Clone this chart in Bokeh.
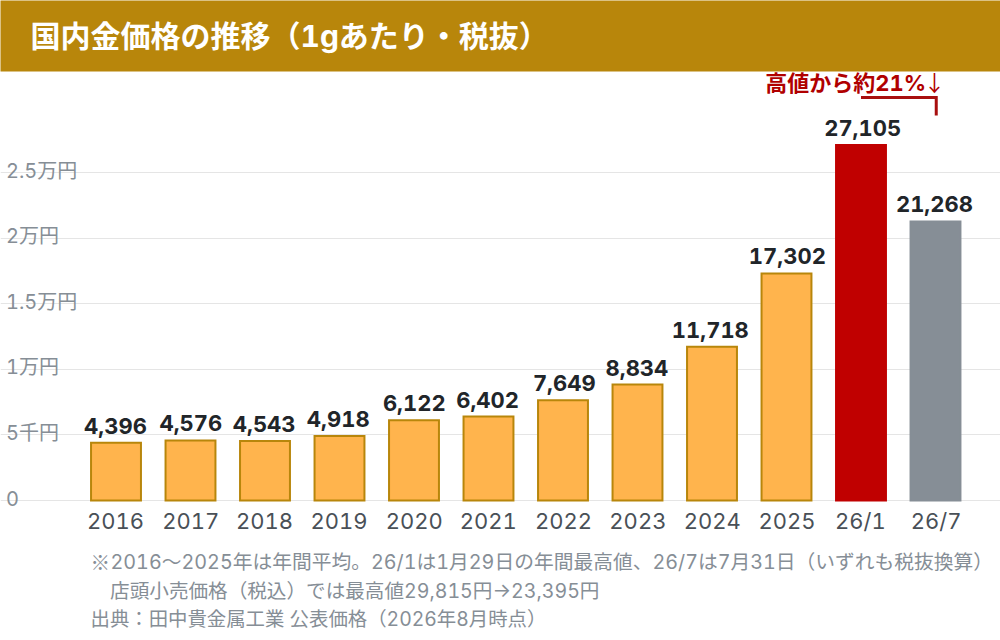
from bokeh.embed import file_html
from bokeh.resources import INLINE
from bokeh.plotting import figure
from bokeh.core.properties import value
from bokeh.models import Range1d, FixedTicker, Label, BoxAnnotation, ColumnDataSource, InlineStyleSheet

categories = ["2016", "2017", "2018", "2019", "2020", "2021", "2022", "2023", "2024", "2025", "26/1", "26/7"]
values = [4396, 4576, 4543, 4918, 6122, 6402, 7649, 8834, 11718, 17302, 27105, 21268]
fills = ["#FFB44D"] * 10 + ["#C00000", "#868E96"]
borders = ["#B8860B"] * 10 + ["#C00000", "#868E96"]
y_ticks = [0, 5000, 10000, 15000, 20000, 25000]
y_tick_labels = ["0", "5千円", "1万円", "1.5万円", "2万円", "2.5万円"]
title_text = "国内金価格の推移（1gあたり・税抜）"
callout_text = "高値から約21%"
callout_arrow = "↓"
bracket_y = [30716, 30716, 29345]
note_mark = "※"
notes = [
    "2016～2025年は年間平均。26/1は1月29日の年間最高値、26/7は7月31日（いずれも税抜換算）",
    "　店頭小売価格（税込）では最高値29,815円→23,395円",
    "出典：田中貴金属工業 公表価格（2026年8月時点）",
]

FONT = "Inter, 'Noto Sans CJK JP', sans-serif"
CJK = "'Noto Sans CJK JP', sans-serif"
x_idx = list(range(len(categories)))
txt = [f"{v:,}" for v in values]
# Text anchors are measured before tabular figures widen each "1": compensate per label.
src = ColumnDataSource(dict(x=x_idx, v=values, fill=fills, line=borders, txt=txt,
                            dx=[-3 * t.count("1") for t in txt]))
cat_src = ColumnDataSource(dict(x=x_idx, y=[0] * len(x_idx), txt=categories,
                                dx=[-3 * t.count("1") - 1 for t in categories]))

p = figure(width=1000, height=640, output_backend="svg", toolbar_location=None,
           x_range=Range1d(-1.5503, 11.8725), y_range=Range1d(-10671, 38110),
           min_border_left=0, min_border_right=0, min_border_top=0, min_border_bottom=0,
           outline_line_color=None, background_fill_color="white", border_fill_color="white",
           stylesheets=[InlineStyleSheet(css=":host{font-variant-numeric:tabular-nums;font-feature-settings:'tnum' 1;}")])

p.vbar(x="x", top="v", bottom=0, width=0.67, source=src, fill_color="fill", line_color="line",
       line_width=2, line_join="miter")
p.text(x="x", y="v", text="txt", source=src, text_font=value(FONT), text_font_style="bold",
       text_font_size="22px", text_color="#212529", text_align="center",
       text_baseline="bottom", x_offset="dx", y_offset=-9)
p.text(x="x", y="y", text="txt", source=cat_src, text_font=value(FONT),
       text_font_size="22px", text_color="#495057", text_align="center",
       text_baseline="middle", x_offset="dx", y_offset=21)
p.line(x=[x_idx[-2], x_idx[-1] + 0.01, x_idx[-1] + 0.01], y=bracket_y, line_color="#A80F0F", line_width=3,
       line_join="miter")

p.xaxis.visible = False
p.yaxis.visible = False
p.xgrid.visible = False
p.ygrid.ticker = FixedTicker(ticks=y_ticks)
p.ygrid.bounds = (-0.342, 11.349)
p.ygrid.grid_line_color = "#E5E5E5"
p.ygrid.grid_line_width = 1

for t, s in zip(y_ticks, y_tick_labels):
    p.add_layout(Label(x=5.5, y=t, x_units="canvas", y_units="data", y_offset=2, text=s, text_font=FONT,
                       text_font_size="20px", text_color="#868E96", text_baseline="middle"))

p.add_layout(Label(x=920.5, y=82, x_units="canvas", y_units="canvas", text=callout_text, text_font=FONT,
                   text_font_style="bold", text_font_size="22px", text_color="#B00000",
                   text_align="right", text_baseline="middle"))
p.add_layout(Label(x=923, y=80, x_units="canvas", y_units="canvas", text=callout_arrow, text_font=CJK,
                   text_font_size="22px", text_color="#B00000", text_baseline="middle"))
p.add_layout(BoxAnnotation(left=-3, right=1003, top=-3, bottom=71, left_units="canvas", right_units="canvas",
                           top_units="canvas", bottom_units="canvas", fill_color="#B8860B", fill_alpha=1,
                           line_color=None, level="overlay"))
p.add_layout(Label(x=30, y=35, x_units="canvas", y_units="canvas", text=title_text, text_font=FONT,
                   text_font_style="bold", text_font_size="30px", text_color="white", text_baseline="middle",
                   level="overlay"))
p.add_layout(Label(x=90, y=561, x_units="canvas", y_units="canvas", text=note_mark, text_font=CJK,
                   text_font_size="19.5px", text_color="#868E96", text_baseline="middle"))
for x, y, s, fs in zip([110, 90, 90], [561, 590, 618], notes, ["19.75px", "19.6px", "19.4px"]):
    p.add_layout(Label(x=x, y=y, x_units="canvas", y_units="canvas", text=s, text_font=FONT,
                       text_font_size=fs, text_color="#868E96", text_baseline="middle"))

open("out.html", "w").write(file_html(p, INLINE))
